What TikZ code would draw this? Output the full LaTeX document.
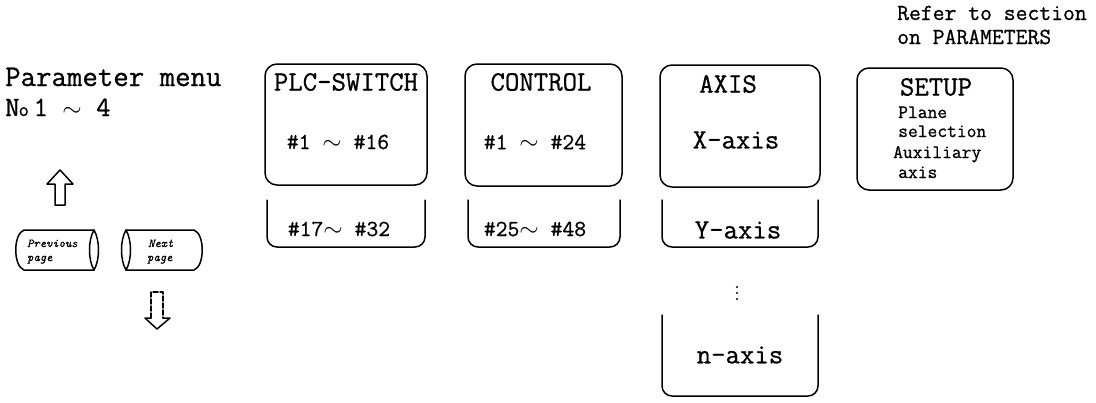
\documentclass[tikz,border=0pt]{standalone}
\usepackage{fontspec}
\setmainfont{Latin Modern Mono}[FakeBold=0.8,BoldFeatures={FakeBold=2.5}]
\newcommand{\wave}{\ensuremath{\sim}}
\begin{document}
\begin{tikzpicture}[x=1pt,y=-1pt,
  line/.style={line width=1.5pt,line join=round,line cap=round},
  menubox/.style={line,rounded corners=12pt},
  big/.style={font=\fontsize{28}{30}\selectfont,inner sep=0pt},
  mid/.style={font=\fontsize{23}{25}\selectfont,inner sep=0pt},
  lbl/.style={font=\fontsize{23}{25}\selectfont,inner sep=0pt,anchor=base west},
  small/.style={font=\bfseries\fontsize{19}{20}\selectfont,inner sep=0pt,anchor=base west},
  tiny/.style={font=\itshape\fontsize{12}{13}\selectfont,inner sep=0pt,anchor=base west}]
\useasboundingbox (0,0) rectangle (1096,402);

% left texts
\node[font=\fontsize{30}{32}\selectfont,inner sep=0pt,anchor=base west] (pm) at (5,86) {Parameter menu};
\node[font=\fontsize{28}{30}\selectfont,inner sep=0pt,anchor=base west] (no) at (5,116) {N\kern-1pt{\fontsize{20}{20}\selectfont o}\,1 \wave{} 4};

% up arrow
\draw[line] (60,170) -- (73,184) -- (65,184) -- (65,205) -- (55,205) -- (55,184) -- (47,184) -- cycle;
% down arrow
\draw[line,dash pattern=on 5pt off 2pt] (151,318) -- (151,292) -- (163,292) -- (163,318);
\draw[line] (151,318) -- (145,318) -- (157,329) -- (170,318) -- (163,318);

% Previous page key
\draw[line] (94,230) -- (24,230) .. controls (13,234) and (13,266) .. (24,270) -- (94,270);
\draw[line] (94,230) .. controls (100,240) and (100,260) .. (94,270);
\draw[line] (94,230) .. controls (88,240) and (88,260) .. (94,270);
\node[tiny] (prev1) at (27,247) {Previous};
\node[tiny] (prev2) at (27,261) {page};

% Next page key
\draw[line] (126,230) -- (194,230) .. controls (205,234) and (205,266) .. (194,270) -- (126,270);
\draw[line] (126,230) .. controls (120,240) and (120,260) .. (126,270);
\draw[line] (126,230) .. controls (132,240) and (132,260) .. (126,270);
\node[tiny] (next1) at (148,247) {Next};
\node[tiny] (next2) at (147,261) {page};

% PLC-SWITCH
\draw[menubox] (265,64) rectangle (427,185);
\node[big] (plc) at (346,82) {PLC-SWITCH};
\node[mid] (plc1) at (338,142) {\#1 \wave{} \#16};
\draw[line,rounded corners=10pt] (267,200) -- (267,247) -- (425,247) -- (425,200);
\node[mid] (plc2) at (339,229) {\#17\wave{} \#32};

% CONTROL
\draw[menubox] (465,64) rectangle (622,186);
\node[big] (ctl) at (541,82) {CONTROL};
\node[mid] (ctl1) at (535,142) {\#1 \wave{} \#24};
\draw[line,rounded corners=10pt] (468,200) -- (468,247) -- (620,247) -- (620,200);
\node[mid] (ctl2) at (535,229) {\#25\wave{} \#48};

% AXIS
\draw[menubox] (660,65) rectangle (820,187);
\node[big] (axis) at (728,84) {AXIS};
\node[big] (xax) at (736,140) {X-axis};
\draw[line,rounded corners=10pt] (662,200) -- (662,247) -- (818,247) -- (818,200);
\node[big] (yax) at (738,230) {Y-axis};
\fill (737,287) circle (1.2pt) (737,293) circle (1.2pt) (737,299) circle (1.2pt);
\draw[line,rounded corners=10pt] (662,315) -- (662,396) -- (818,396) -- (818,315);
\node[big] (nax) at (740,355) {n-axis};

% SETUP
\node[lbl] (ref1) at (897,20) {Refer to section};
\node[lbl] (ref2) at (897,44) {on PARAMETERS};
\draw[menubox] (857,68) rectangle (1013,190);
\node[big] (setup) at (936,87) {SETUP};
\node[small] (pl1) at (898,118) {Plane};
\node[small] (pl2) at (898,137) {selection};
\node[small] (au1) at (893,158) {Auxiliary};
\node[small] (au2) at (898,178) {axis};
\end{tikzpicture}
\end{document}
